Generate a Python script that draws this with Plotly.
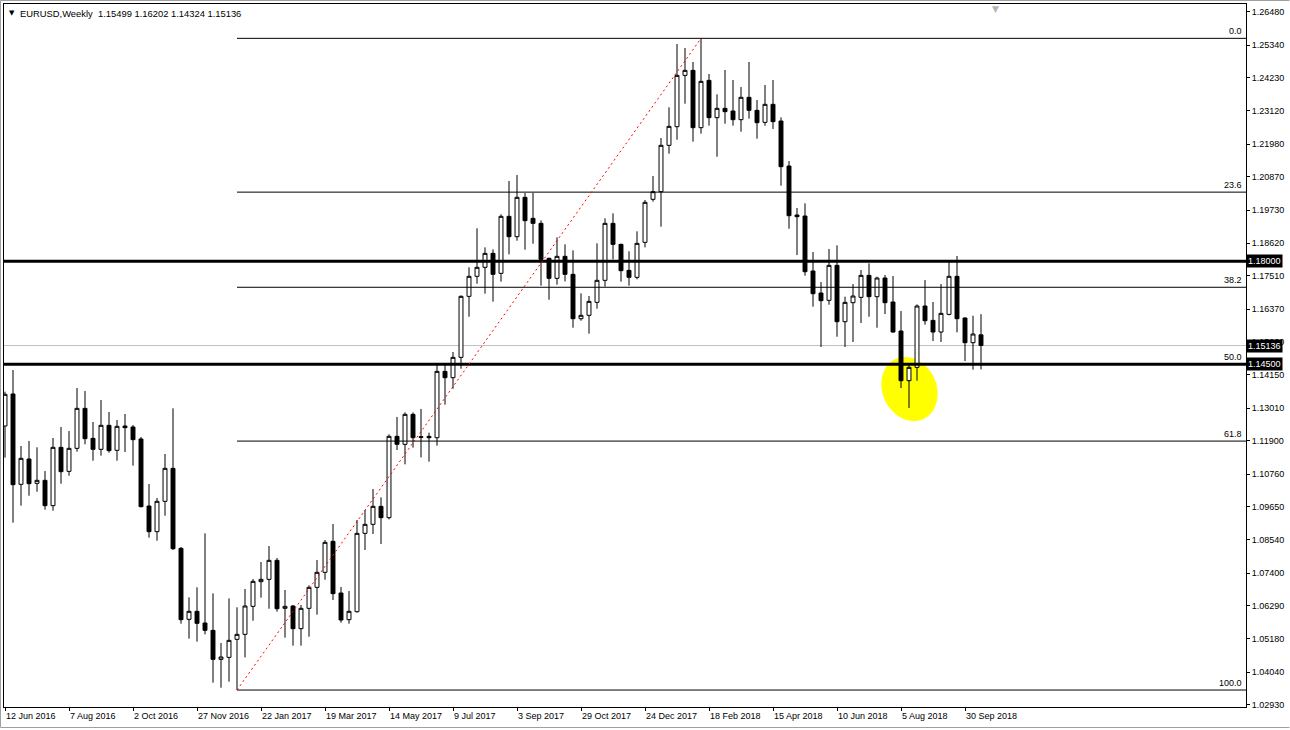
import math

import pandas as pd
import plotly.graph_objects as go

symbol = "EURUSD,Weekly"
first_week = "2016-06-12"

opens = [
    1.12401, 1.13489, 1.10419, 1.11280, 1.10453, 1.10555, 1.09694, 1.11676, 1.10860, 1.11642,
    1.13001, 1.11982, 1.11608, 1.12424, 1.11574, 1.12401, 1.12367, 1.11959, 1.09682, 1.08810,
    1.09841, 1.10962, 1.08244, 1.05831, 1.06103, 1.05706, 1.05457, 1.04471, 1.04539, 1.05151,
    1.05321, 1.06272, 1.07111, 1.07190, 1.07836, 1.06205, 1.06284, 1.05514, 1.06205, 1.06918,
    1.07428, 1.08482, 1.06726, 1.05820, 1.06091, 1.08753, 1.09059, 1.09671, 1.09286, 1.12050,
    1.11778, 1.12797, 1.12038, 1.12049, 1.12004, 1.14258, 1.14043, 1.14734, 1.16807, 1.17487,
    1.17793, 1.18268, 1.17589, 1.19526, 1.18835, 1.20172, 1.19458, 1.19288, 1.18099, 1.17419,
    1.18167, 1.17555, 1.16048, 1.16162, 1.16603, 1.17351, 1.19288, 1.18574, 1.17691, 1.17453,
    1.18642, 1.20104, 1.20364, 1.21939, 1.22573, 1.24317, 1.24487, 1.22539, 1.24147, 1.22879,
    1.23196, 1.23105, 1.22811, 1.23570, 1.23128, 1.22720, 1.23332, 1.22765, 1.21236, 1.19571,
    1.19537, 1.17668, 1.16920, 1.16671, 1.17860, 1.15946, 1.16592, 1.16773, 1.17520, 1.16796,
    1.17430, 1.16614, 1.15629, 1.13941, 1.14394, 1.16478, 1.15991, 1.15595, 1.16195, 1.17487,
    1.16071, 1.15232, 1.15499,
]
highs = [
    1.13568, 1.14304, 1.11721, 1.11891, 1.11676, 1.10872, 1.11993, 1.12367, 1.12231, 1.13692,
    1.13591, 1.12537, 1.13285, 1.12877, 1.12605, 1.12809, 1.12435, 1.12027, 1.10430, 1.09954,
    1.11450, 1.13001, 1.08289, 1.06578, 1.06918, 1.08753, 1.06714, 1.05027, 1.06544, 1.06239,
    1.06862, 1.07201, 1.07779, 1.08323, 1.07915, 1.06828, 1.06318, 1.06318, 1.06986, 1.07847,
    1.08527, 1.09071, 1.06930, 1.06794, 1.09207, 1.09546, 1.10260, 1.09977, 1.12118, 1.12707,
    1.12865, 1.12865, 1.12979, 1.12174, 1.14474, 1.14474, 1.14916, 1.16841, 1.17793, 1.19118,
    1.18472, 1.18404, 1.19594, 1.20727, 1.20931, 1.20319, 1.20319, 1.19390, 1.18121, 1.18812,
    1.18574, 1.18371, 1.16909, 1.16819, 1.18608, 1.19458, 1.19628, 1.18597, 1.18337, 1.19016,
    1.20081, 1.20897, 1.22188, 1.23230, 1.25382, 1.25246, 1.24771, 1.25575, 1.24363, 1.23672,
    1.24499, 1.24159, 1.23921, 1.24771, 1.23479, 1.23989, 1.24159, 1.22890, 1.21406, 1.19809,
    1.19967, 1.18313, 1.17294, 1.18415, 1.18540, 1.16796, 1.17226, 1.17702, 1.17928, 1.17475,
    1.17532, 1.17498, 1.16308, 1.14530, 1.16535, 1.17362, 1.16614, 1.17226, 1.18030, 1.18178,
    1.16093, 1.16150, 1.16202,
]
lows = [
    1.11325, 1.09116, 1.09694, 1.10034, 1.10169, 1.09558, 1.09524, 1.10441, 1.10713, 1.11529,
    1.11778, 1.11223, 1.11393, 1.11495, 1.11223, 1.11517, 1.11053, 1.09637, 1.08606, 1.08504,
    1.09354, 1.08187, 1.05684, 1.05174, 1.05072, 1.05321, 1.03678, 1.03509, 1.03712, 1.03429,
    1.04539, 1.05785, 1.06567, 1.06193, 1.06091, 1.05208, 1.04936, 1.04936, 1.05242, 1.05989,
    1.07179, 1.06488, 1.05718, 1.05684, 1.06060, 1.08187, 1.08731, 1.08391, 1.09229, 1.11585,
    1.11098, 1.11665, 1.11336, 1.11189, 1.11733, 1.13126, 1.13669, 1.14349, 1.16116, 1.17238,
    1.16898, 1.16626, 1.17306, 1.18235, 1.18699, 1.18393, 1.18597, 1.17170, 1.16694, 1.17204,
    1.17317, 1.15742, 1.15980, 1.15538, 1.16388, 1.17136, 1.18065, 1.17306, 1.17170, 1.17385,
    1.18472, 1.20024, 1.19174, 1.21655, 1.22131, 1.23355, 1.22063, 1.22335, 1.22607, 1.21553,
    1.22675, 1.22607, 1.22403, 1.22845, 1.22165, 1.22607, 1.22494, 1.20568, 1.19106, 1.18212,
    1.17509, 1.16456, 1.15085, 1.16524, 1.15436, 1.15085, 1.15255, 1.15901, 1.16116, 1.15742,
    1.16206, 1.15572, 1.13692, 1.13012, 1.13941, 1.15844, 1.15289, 1.15255, 1.16161, 1.15583,
    1.14609, 1.14315, 1.14324,
]
closes = [
    1.13477, 1.10407, 1.11302, 1.10441, 1.10555, 1.09694, 1.11676, 1.10849, 1.11642, 1.13001,
    1.11971, 1.11608, 1.12424, 1.11563, 1.12390, 1.12344, 1.11937, 1.09660, 1.08810, 1.09841,
    1.10962, 1.08232, 1.05820, 1.06103, 1.05695, 1.05457, 1.04471, 1.04551, 1.05117, 1.05321,
    1.06284, 1.07122, 1.07190, 1.07836, 1.06193, 1.06273, 1.05514, 1.06205, 1.06918, 1.07428,
    1.08448, 1.06703, 1.05808, 1.06103, 1.08753, 1.09059, 1.09671, 1.09286, 1.12050, 1.11778,
    1.12797, 1.12004, 1.12016, 1.12004, 1.14258, 1.14043, 1.14734, 1.16807, 1.17487, 1.17793,
    1.18268, 1.17555, 1.19526, 1.18835, 1.20172, 1.19379, 1.19288, 1.18065, 1.17419, 1.18167,
    1.17555, 1.16048, 1.16162, 1.16637, 1.17351, 1.19288, 1.18574, 1.17680, 1.17453, 1.18608,
    1.20002, 1.20364, 1.21939, 1.22584, 1.24317, 1.24487, 1.22539, 1.24113, 1.22879, 1.23196,
    1.23083, 1.22811, 1.23570, 1.23128, 1.22709, 1.23332, 1.22743, 1.21214, 1.19548, 1.19514,
    1.17645, 1.16897, 1.16660, 1.17860, 1.15946, 1.16603, 1.16818, 1.17520, 1.16796, 1.17430,
    1.16592, 1.15595, 1.13941, 1.14394, 1.16478, 1.15980, 1.15595, 1.16229, 1.17487, 1.16048,
    1.15232, 1.15527, 1.15136,
]

price_ticks = [
    1.26480, 1.25340, 1.24230, 1.23120, 1.21980, 1.20870, 1.19730, 1.18620, 1.17510, 1.16370,
    1.15260, 1.14150, 1.13010, 1.11900, 1.10760, 1.09650, 1.08540, 1.07400, 1.06290, 1.05180,
    1.04040, 1.02930,
]
date_tick_step = 8  # weeks between date labels

fib_ratios = [0.0, 0.236, 0.382, 0.5, 0.618, 1.0]
key_levels = [1.18000, 1.14500]

weeks = pd.date_range(first_week, periods=len(opens), freq="7D")
idx = list(range(len(opens)))
tick_idx = idx[::date_tick_step]
tick_text = [weeks[i].strftime("%-d %b %Y") for i in tick_idx]

# fibonacci retracement from the Jan 2017 low to the Feb 2018 high
lo_i = lows.index(min(lows))
hi_i = highs.index(max(highs))
fib_lo = lows[lo_i]
fib_hi = highs[hi_i]
fib_levels = [fib_hi - r * (fib_hi - fib_lo) for r in fib_ratios]

x_range = [-0.125, 155.125]
y_range = [1.02852, 1.26742]

FONT = "Liberation Sans"
PLOT_W, PLOT_H = 1242, 703

fig = go.Figure()

fig.add_trace(go.Candlestick(
    x=idx, open=opens, high=highs, low=lows, close=closes,
    increasing=dict(fillcolor="white", line=dict(color="black", width=1)),
    decreasing=dict(fillcolor="black", line=dict(color="black", width=1)),
    whiskerwidth=0,
    showlegend=False,
    hoverinfo="skip",
))

shapes = []

# yellow highlight round the August 2018 dip (pixel -> data: 8px per week)
px_x = 1 / 8
px_y = (y_range[1] - y_range[0]) / PLOT_H
cx, cy = 113.06, 1.13658
a, b, tilt = 33, 27, math.radians(25)
pts = []
for k in range(60):
    t = 2 * math.pi * k / 60
    ex = -a * math.sin(t) * math.sin(tilt) + b * math.cos(t) * math.cos(tilt)
    ey = a * math.sin(t) * math.cos(tilt) + b * math.cos(t) * math.sin(tilt)
    pts.append((cx + ex * px_x, cy + ey * px_y))
path = "M " + " L ".join(f"{x:.4f},{y:.6f}" for x, y in pts) + " Z"
shapes.append(dict(type="path", path=path, xref="x", yref="y", layer="below",
                   fillcolor="#ffff00", line=dict(width=0)))

# current price line
shapes.append(dict(type="line", xref="paper", x0=0, x1=1, yref="y",
                   y0=closes[-1], y1=closes[-1], layer="below",
                   line=dict(color="#c0c0c0", width=1)))

for lv in fib_levels:
    shapes.append(dict(type="line", xref="x", x0=lo_i, x1=x_range[1], yref="y",
                       y0=lv, y1=lv, line=dict(color="black", width=1)))

for lv in key_levels:
    shapes.append(dict(type="line", xref="paper", x0=0, x1=1, yref="y",
                       y0=lv, y1=lv, line=dict(color="black", width=3)))

shapes.append(dict(type="line", xref="x", yref="y", x0=lo_i, y0=fib_lo,
                   x1=hi_i, y1=fib_hi, line=dict(color="red", width=1, dash="2px,3px")))

# window border (left, top, bottom) in the margins
win = dict(x0=(0.5 - 4) / PLOT_W, x1=(1289.5 - 4) / PLOT_W,
           y0=(707 - 727.5) / PLOT_H, y1=(707 - 0.5) / PLOT_H)
for s in [dict(x0=win["x0"], x1=win["x0"], y0=win["y0"], y1=win["y1"]),
          dict(x0=win["x0"], x1=win["x1"], y0=win["y1"], y1=win["y1"]),
          dict(x0=win["x0"], x1=win["x1"], y0=win["y0"], y1=win["y0"])]:
    shapes.append(dict(type="line", xref="paper", yref="paper",
                       line=dict(color="#a0a0a0", width=1), **s))

annotations = []
for r, lv in zip(fib_ratios, fib_levels):
    annotations.append(dict(text=f"{r * 100:.1f}", xref="paper", x=1, xanchor="right",
                            xshift=-2, yref="y", y=lv, yanchor="bottom", showarrow=False,
                            font=dict(family=FONT, size=9, color="black")))

for lv in key_levels + [closes[-1]]:
    annotations.append(dict(text=f"{lv:.5f}", xref="paper", x=1, xanchor="left", xshift=0,
                            yref="y", y=lv, yanchor="middle", showarrow=False,
                            bgcolor="black", borderpad=1,
                            font=dict(family=FONT, size=9, color="white")))

title = f"{symbol}  {opens[-1]:.5f} {highs[-1]:.5f} {lows[-1]:.5f} {closes[-1]:.5f}"
annotations.append(dict(text="▼", xref="paper", yref="paper", x=0, y=1, xanchor="left",
                        yanchor="top", yshift=-3, xshift=3, showarrow=False,
                        font=dict(family="DejaVu Sans", size=7, color="black")))
annotations.append(dict(text=title, xref="paper", yref="paper", x=0, y=1, xanchor="left",
                        yanchor="top", yshift=-2, xshift=14, showarrow=False,
                        font=dict(family=FONT, size=9.4, color="black")))
# chart shift marker
annotations.append(dict(text="▼", xref="x", yref="paper", x=123.8, y=1, yanchor="top",
                        yshift=2, showarrow=False,
                        font=dict(family="DejaVu Sans", size=9, color="#b4b4b4")))

fig.update_layout(
    width=1290, height=730,
    margin=dict(l=4, r=44, t=4, b=23),
    paper_bgcolor="white", plot_bgcolor="white",
    font=dict(family=FONT, size=9, color="black"),
    shapes=shapes, annotations=annotations,
    showlegend=False,
)
fig.update_xaxes(
    range=x_range, rangeslider=dict(visible=False), automargin=False,
    tickmode="array", tickvals=tick_idx, ticktext=tick_text,
    ticks="outside", ticklen=3, tickcolor="black", ticklabelposition="outside right",
    showgrid=False, zeroline=False,
    showline=True, linecolor="black", linewidth=1, mirror=True,
    tickfont=dict(family=FONT, size=9, color="black"),
)
fig.update_yaxes(
    range=y_range, side="right", automargin=False,
    tickmode="array", tickvals=price_ticks, ticktext=[f"{v:.5f}" for v in price_ticks],
    ticks="outside", ticklen=3, tickcolor="black",
    showgrid=False, zeroline=False,
    showline=True, linecolor="black", linewidth=1, mirror=True,
    tickfont=dict(family=FONT, size=9, color="black"),
)

# the page's default body margin would push the chart 8px off its place
fig.write_html("out.html", config={"displayModeBar": False},
               post_script="document.body.style.margin='0';")
